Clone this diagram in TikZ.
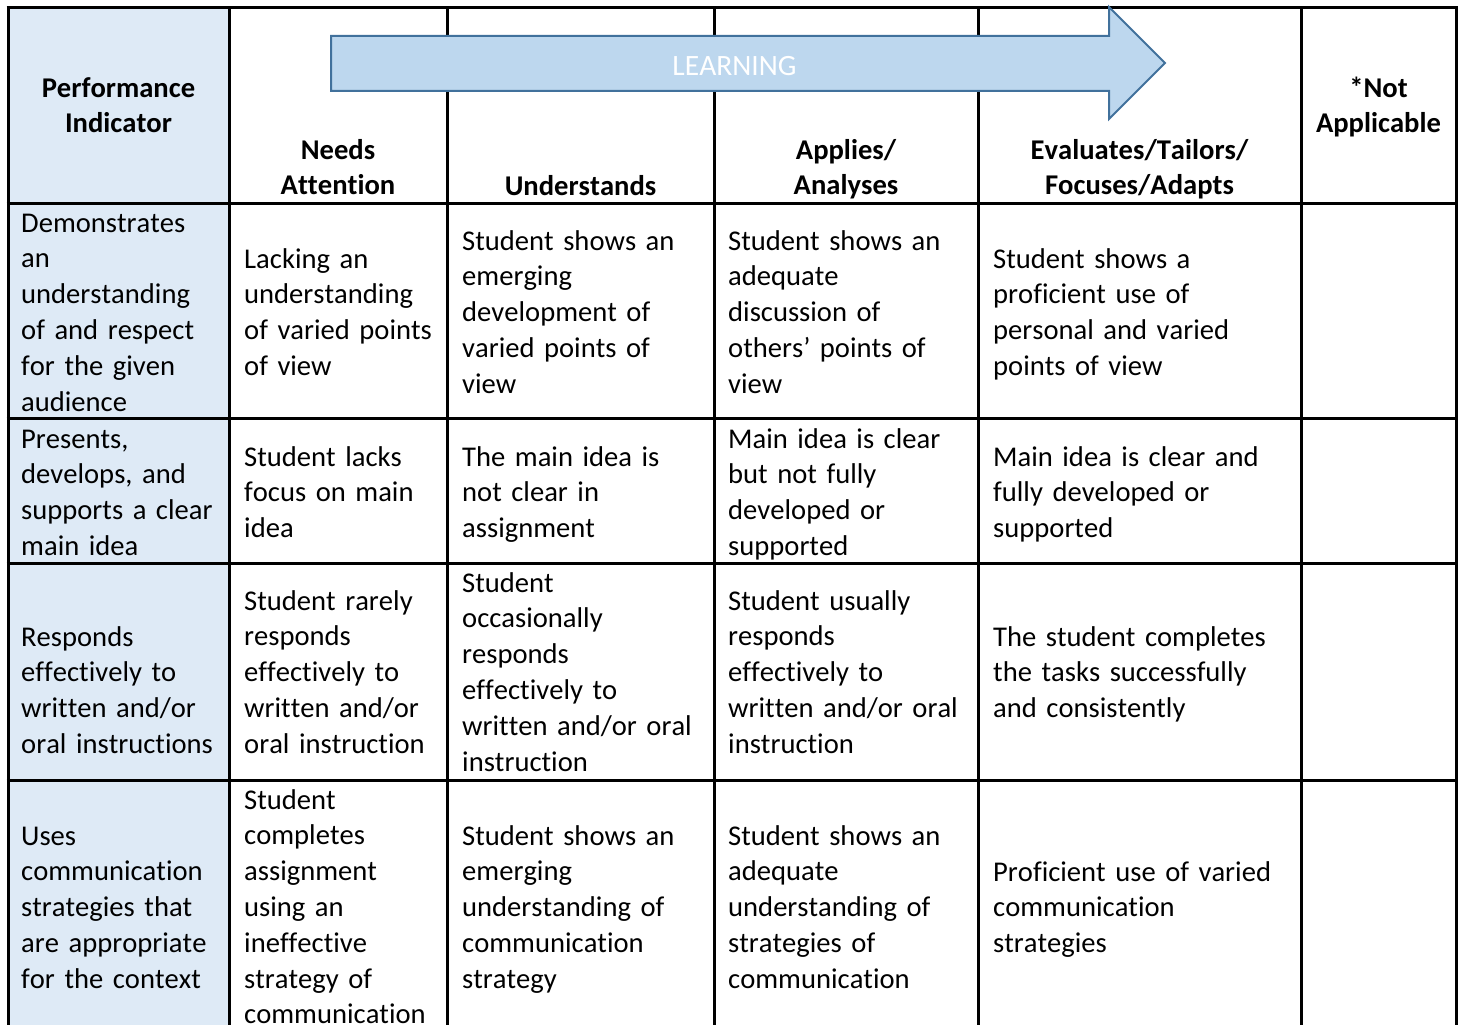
\documentclass[tikz,border=0pt]{standalone}
\usepackage{fontspec}
\setmainfont[Ligatures=NoCommon,Kerning=Off]{Carlito}
\newcommand\mycellfont{\fontsize{28.6}{35.8}\selectfont}
\newcommand\myheadfont{\fontsize{28.6}{35.8}\selectfont\bfseries}
\definecolor{indfill}{HTML}{DEEAF6}
\definecolor{arrfill}{HTML}{BDD7EE}
\definecolor{arrline}{HTML}{41719C}
\tikzset{
  cell/.style={anchor=base west, inner sep=0pt, text width=330pt, align=left, font=\mycellfont},
  head/.style={anchor=base, inner sep=0pt, text width=330pt, align=center, font=\myheadfont},
  gridline/.style={line width=3pt, black},
  learnarrow/.style={fill=arrfill, draw=arrline, line width=2pt, line join=miter},
}
\begin{document}
\begin{tikzpicture}[x=1pt,y=-1pt]
\useasboundingbox (0,0) rectangle (1460,1025);
% indicator column fill
\fill[indfill] (8,8) rectangle (229,1025);
% grid
\foreach \xx in {8,229,447,714,978,1301,1456}
  \draw[gridline] (\xx,8) -- (\xx,1025);
\foreach \yy in {8,203,418.5,563.5,780.5}
  \draw[gridline] (6.5,\yy) -- (1457.5,\yy);
% arrow
\draw[learnarrow] (331,36) -- (1109,36) -- (1109,7) -- (1165,63) -- (1109,119) -- (1109,91) -- (331,91) -- cycle;
\node[font=\fontsize{29.5}{30}\selectfont, text=white, inner sep=0pt, anchor=base] (learn) at (734.5,76) {LEARNING};
% headers
\node[head] (h1) at (118.5,97) {Performance\\Indicator};
\node[head] (h2) at (338,159) {Needs\\Attention};
\node[head] (h3) at (580.5,195) {Understands};
\node[head] (h4) at (846,159) {Applies/\\Analyses};
\node[head] (h5) at (1139.5,159) {Evaluates/Tailors/\\Focuses/Adapts};
\node[head] (h6) at (1378.5,97) {*Not\\Applicable};
% row 1
\node[cell] (r1c1) at (21,232) {Demonstrates\\an\\understanding\\of and respect\\for the given\\audience};
\node[cell] (r1c2) at (244,268) {Lacking an\\understanding\\of varied points\\of view};
\node[cell] (r1c3) at (462,250) {Student shows an\\emerging\\development of\\varied points of\\view};
\node[cell] (r1c4) at (728,250) {Student shows an\\adequate\\discussion of\\others’ points of\\view};
\node[cell] (r1c5) at (993,268) {Student shows a\\proficient use of\\personal and varied\\points of view};
% row 2
\node[cell] (r2c1) at (21,448) {Presents,\\develops, and\\supports a clear\\main idea};
\node[cell] (r2c2) at (244,466) {Student lacks\\focus on main\\idea};
\node[cell] (r2c3) at (462,466) {The main idea is\\not clear in\\assignment};
\node[cell] (r2c4) at (728,448) {Main idea is clear\\but not fully\\developed or\\supported};
\node[cell] (r2c5) at (993,466) {Main idea is clear and\\fully developed or\\supported};
% row 3
\node[cell] (r3c1) at (21,646) {Responds\\effectively to\\written and/or\\oral instructions};
\node[cell] (r3c2) at (244,610) {Student rarely\\responds\\effectively to\\written and/or\\oral instruction};
\node[cell] (r3c3) at (462,592) {Student\\occasionally\\responds\\effectively to\\written and/or oral\\instruction};
\node[cell] (r3c4) at (728,610) {Student usually\\responds\\effectively to\\written and/or oral\\instruction};
\node[cell] (r3c5) at (993,646) {The student completes\\the tasks successfully\\and consistently};
% row 4
\node[cell] (r4c1) at (21,845) {Uses\\communication\\strategies that\\are appropriate\\for the context};
\node[cell] (r4c2) at (244,809) {Student\\completes\\assignment\\using an\\ineffective\\strategy of\\communication};
\node[cell] (r4c3) at (462,845) {Student shows an\\emerging\\understanding of\\communication\\strategy};
\node[cell] (r4c4) at (728,845) {Student shows an\\adequate\\understanding of\\strategies of\\communication};
\node[cell] (r4c5) at (993,881) {Proficient use of varied\\communication\\strategies};
\end{tikzpicture}
\end{document}
